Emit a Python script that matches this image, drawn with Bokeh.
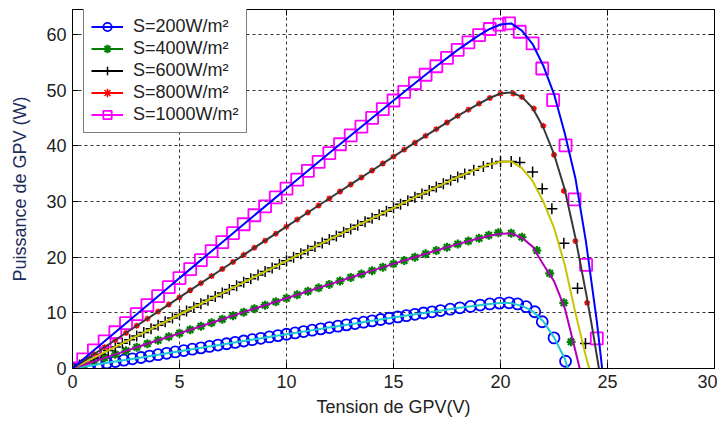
from bokeh.plotting import figure
from bokeh.models import Range1d, LinearAxis, Legend, LegendItem, FixedTicker
from bokeh.embed import file_html
from bokeh.resources import INLINE

# ---------------- data ----------------
X_TICKS = [0, 5, 10, 15, 20, 25, 30]
Y_TICKS = [0, 10, 20, 30, 40, 50, 60]
LABELS = ["S=200W/m²", "S=400W/m²", "S=600W/m²", "S=800W/m²", "S=1000W/m²"]

# smooth model curves (lines)
line_v_200 = [0, 1, 2, 3, 4, 5, 6, 7, 8, 9, 10, 11, 12, 13, 14, 15, 16, 17, 18, 19,
              19.5, 20, 20.5, 21, 21.5, 22, 22.5, 23, 23.15]
line_p_200 = [0, 0.62, 1.24, 1.86, 2.48, 3.1, 3.71, 4.33, 4.94, 5.55, 6.15, 6.76, 7.36, 7.96,
              8.56, 9.15, 9.74, 10.3, 10.85, 11.35, 11.6, 11.75, 11.75, 11.25, 10.3, 8.5, 5.6,
              1.8, 0]

line_v_400 = [0, 1, 2, 3, 4, 5, 6, 7, 8, 9, 10, 11, 12, 13, 14, 15, 16, 17, 18, 19,
              19.5, 20, 20.5, 21, 21.5, 22, 22.5, 23, 23.5, 23.7]
line_p_400 = [0, 1.27, 2.54, 3.81, 5.08, 6.34, 7.6, 8.86, 10.12, 11.37, 12.62, 13.87, 15.11,
              16.35, 17.58, 18.8, 20.0, 21.2, 22.35, 23.4, 23.85, 24.2, 24.25, 23.5, 21.9,
              18.7, 15.7, 10.9, 3.2, 0]

line_v_600 = [0, 1, 2, 3, 4, 5, 6, 7, 8, 9, 10, 11, 12, 13, 14, 15, 16, 17, 18, 19,
              19.5, 20, 20.5, 21, 21.5, 22, 22.5, 23, 23.5, 24, 24.15]
line_p_600 = [0, 1.94, 3.88, 5.82, 7.76, 9.7, 11.63, 13.56, 15.49, 17.42, 19.34, 21.26, 23.17,
              25.08, 26.98, 28.87, 30.75, 32.6, 34.4, 36.0, 36.7, 37.15, 37.2, 36.0, 33.7,
              30.0, 25.3, 18.7, 10.0, 2.0, 0]

line_v_800 = [0, 1, 2, 3, 4, 5, 6, 7, 8, 9, 10, 11, 12, 13, 14, 15, 16, 17, 18, 19,
              19.5, 20, 20.5, 21, 21.5, 22, 22.5, 23, 23.5, 24, 24.3, 24.6]
line_p_800 = [0, 2.56, 5.12, 7.68, 10.23, 12.78, 15.33, 17.88, 20.42, 22.96, 25.5, 28.03,
              30.55, 33.07, 35.58, 38.08, 40.57, 43.0, 45.4, 47.6, 48.6, 49.4, 49.6, 48.8,
              46.8, 43.3, 38.5, 32.2, 23.5, 13.5, 7.0, 0]

line_v_1000 = [0, 1, 2, 3, 4, 5, 6, 7, 8, 9, 10, 11, 12, 13, 14, 15, 16, 17, 18, 19,
               19.5, 20, 20.5, 21, 21.5, 22, 22.5, 23, 23.5, 24, 24.5, 24.75]
line_p_1000 = [0, 3.26, 6.51, 9.76, 13.0, 16.24, 19.47, 22.7, 25.92, 29.13, 32.33, 35.52,
               38.7, 41.87, 45.02, 48.15, 51.25, 54.3, 57.25, 59.9, 61.0, 61.8, 62.0, 60.7,
               58.3, 54.4, 49.3, 42.3, 34.2, 22.6, 8.5, 0]

# sampled points (markers)
mk_v_200 = [0, 0.4, 0.8, 1.2, 1.6, 2.0, 2.4, 2.8, 3.2, 3.6, 4.0, 4.4, 4.8, 5.2, 5.6, 6.0,
            6.4, 6.8, 7.2, 7.6, 8.0, 8.4, 8.8, 9.2, 9.6, 10.0, 10.4, 10.8, 11.2, 11.6, 12.0,
            12.4, 12.8, 13.2, 13.6, 14.0, 14.4, 14.8, 15.2, 15.6, 16.0, 16.4, 16.8, 17.2,
            17.65, 18.1, 18.6, 19.05, 19.5, 19.95, 20.4, 20.8, 21.2, 21.6, 21.95, 22.5, 23.04]
mk_p_200 = [0, 0.25, 0.5, 0.74, 0.99, 1.24, 1.49, 1.74, 1.98, 2.23, 2.48, 2.73, 2.98, 3.22,
            3.47, 3.71, 3.96, 4.21, 4.45, 4.69, 4.94, 5.18, 5.43, 5.67, 5.91, 6.15, 6.39,
            6.64, 6.88, 7.12, 7.36, 7.6, 7.84, 8.08, 8.32, 8.56, 8.8, 9.03, 9.27, 9.5, 9.74,
            9.97, 10.19, 10.41, 10.66, 10.9, 11.15, 11.4, 11.6, 11.75, 11.8, 11.6, 11.1,
            10.2, 8.4, 5.5, 1.3]

mk_v_400 = [0, 0.5, 1, 1.5, 2, 2.5, 3, 3.5, 4, 4.5, 5, 5.5, 6, 6.5, 7, 7.5, 8, 8.5, 9, 9.5,
            10, 10.5, 11, 11.5, 12, 12.5, 13, 13.5, 14, 14.5, 15, 15.5, 16, 16.5, 17, 17.5,
            18, 18.5, 19, 19.45, 19.9, 20.5, 21.0, 21.7, 22.3, 22.96, 23.3]
mk_p_400 = [0, 0.64, 1.27, 1.91, 2.54, 3.18, 3.81, 4.45, 5.08, 5.71, 6.34, 6.97, 7.6, 8.23,
            8.86, 9.49, 10.12, 10.75, 11.37, 12.0, 12.62, 13.25, 13.87, 14.49, 15.11, 15.73,
            16.35, 16.97, 17.58, 18.19, 18.8, 19.4, 20.0, 20.6, 21.2, 21.78, 22.35, 22.9,
            23.4, 23.95, 24.4, 24.3, 23.6, 21.2, 17.1, 11.8, 4.8]

mk_v_600 = [0, 0.33, 0.67, 1.0, 1.33, 1.67, 2.0, 2.33, 2.67, 3.0, 3.33, 3.67, 4.0, 4.33, 4.67,
            5.0, 5.33, 5.67, 6.0, 6.33, 6.67, 7.0, 7.33, 7.67, 8.0, 8.33, 8.67, 9.0, 9.33,
            9.67, 10.0, 10.33, 10.67, 11.0, 11.33, 11.67, 12.0, 12.33, 12.67, 13.0, 13.33,
            13.67, 14.0, 14.33, 14.67, 15.0, 15.33, 15.67, 16.0, 16.33, 16.67, 17.0, 17.33,
            17.67, 18.0, 18.33, 18.75, 19.2, 19.6, 20.0, 20.5, 20.9, 21.5, 21.95, 22.4,
            22.96, 23.6, 23.97]
mk_p_600 = [0, 0.64, 1.3, 1.94, 2.58, 3.24, 3.88, 4.52, 5.18, 5.82, 6.46, 7.12, 7.76, 8.4,
            9.06, 9.7, 10.34, 11.0, 11.63, 12.27, 12.93, 13.56, 14.2, 14.86, 15.49, 16.13,
            16.78, 17.42, 18.06, 18.71, 19.34, 19.98, 20.63, 21.26, 21.9, 22.55, 23.17,
            23.81, 24.46, 25.08, 25.72, 26.36, 26.98, 27.62, 28.26, 28.87, 29.5, 30.13,
            30.75, 31.37, 31.99, 32.6, 33.2, 33.8, 34.4, 34.95, 35.6, 36.3, 36.85, 37.2,
            37.2, 37.0, 35.3, 32.3, 28.7, 22.5, 14.4, 4.5]

mk_v_800 = [0, 0.5, 1, 1.5, 2, 2.5, 3, 3.5, 4, 4.5, 5, 5.5, 6, 6.5, 7, 7.5, 8, 8.5, 9, 9.5,
            10, 10.5, 11, 11.5, 12, 12.5, 13, 13.5, 14, 14.5, 15, 15.5, 16, 16.5, 17, 17.5,
            18, 18.5, 19, 19.5, 20, 20.6, 21.0, 21.56, 22.0, 22.5, 22.96, 23.5, 24.05]
mk_p_800 = [0, 1.28, 2.56, 3.84, 5.12, 6.4, 7.68, 8.96, 10.23, 11.5, 12.78, 14.06, 15.33,
            16.6, 17.88, 19.15, 20.42, 21.7, 22.96, 24.23, 25.5, 26.76, 28.03, 29.3, 30.55,
            31.8, 33.07, 34.33, 35.58, 36.83, 38.08, 39.33, 40.57, 41.8, 43.0, 44.2, 45.4,
            46.5, 47.6, 48.6, 49.4, 49.4, 48.8, 46.7, 43.6, 38.4, 31.9, 22.9, 11.8]

mk_v_1000 = [0, 0.5, 1, 1.5, 2, 2.5, 3, 3.5, 4, 4.5, 5, 5.5, 6, 6.5, 7, 7.5, 8, 8.5, 9, 9.5,
             10, 10.5, 11, 11.5, 12, 12.5, 13, 13.5, 14, 14.5, 15, 15.5, 16, 16.5, 17, 17.5,
             18, 18.5, 19, 19.5, 19.95, 20.4, 20.9, 21.5, 21.95, 22.46, 23.04, 23.46, 24.0,
             24.5]
mk_p_1000 = [0, 1.63, 3.26, 4.88, 6.51, 8.14, 9.76, 11.38, 13.0, 14.62, 16.24, 17.86, 19.47,
             21.09, 22.7, 24.31, 25.92, 27.53, 29.13, 30.73, 32.33, 33.93, 35.52, 37.11,
             38.7, 40.29, 41.87, 43.45, 45.02, 46.59, 48.15, 49.7, 51.25, 52.78, 54.3, 55.8,
             57.25, 58.6, 59.9, 61.0, 61.8, 62.0, 60.5, 58.4, 53.9, 48.2, 40.1, 30.4, 18.6,
             5.4]

# ---------------- figure ----------------
FONT = "Liberation Sans"
p = figure(width=717, height=422, output_backend="svg", toolbar_location=None,
           x_range=Range1d(0, 30), y_range=Range1d(0, 64.5),
           min_border_left=72, min_border_right=3, min_border_top=9, min_border_bottom=54,
           x_axis_label="Tension de GPV(V)", y_axis_label="Puissance de GPV (W)",
           background_fill_color="white", border_fill_color="white")
p.outline_line_color = "black"
p.outline_line_width = 1

for ax in (p.xaxis[0], p.yaxis[0]):
    ax.major_tick_in = 6
    ax.major_tick_out = 0
    ax.minor_tick_in = 0
    ax.minor_tick_out = 0
    ax.axis_line_color = "black"
    ax.major_tick_line_color = "black"
    ax.major_label_text_font = FONT
    ax.major_label_text_font_size = "18px"
    ax.major_label_text_color = "#222222"
    ax.axis_label_text_font = FONT
    ax.axis_label_text_font_size = "18px"
    ax.axis_label_text_font_style = "normal"

p.xaxis.ticker = FixedTicker(ticks=X_TICKS)
p.yaxis.ticker = FixedTicker(ticks=Y_TICKS)
p.xaxis.major_label_standoff = 6
p.xaxis.axis_label_standoff = 6
p.xaxis.axis_label_text_color = "#222222"
p.yaxis.major_label_standoff = 6
p.yaxis.axis_label_standoff = 13
p.yaxis.axis_label_text_color = "#1e2d5a"

# tick marks on the top and right edges (no labels)
for loc, tk in (("above", X_TICKS), ("right", Y_TICKS)):
    ax = LinearAxis(ticker=FixedTicker(ticks=tk), major_tick_in=6, major_tick_out=0,
                    minor_tick_in=0, minor_tick_out=0, major_label_text_font_size="0px",
                    major_label_text_color=None, major_label_standoff=0,
                    axis_line_color="black", major_tick_line_color="black")
    p.add_layout(ax, loc)

p.xgrid.ticker = FixedTicker(ticks=X_TICKS)
p.ygrid.ticker = FixedTicker(ticks=Y_TICKS)
for g in (p.xgrid[0], p.ygrid[0]):
    g.grid_line_color = "#333333"
    g.grid_line_dash = "3 3"
    g.grid_line_width = 1

# markers first, lines over them
mk_styles = [
    (mk_v_200, mk_p_200, dict(marker="circle", size=11, line_color="#0000ff", fill_color=None, line_width=1.8), "#0000ff"),
    (mk_v_400, mk_p_400, dict(marker="asterisk", size=9, line_color="#008000", line_width=2.2), "#008000"),
    (mk_v_600, mk_p_600, dict(marker="cross", size=11, line_color="#000000", line_width=1.5), "#000000"),
    (mk_v_800, mk_p_800, dict(marker="asterisk", size=6, line_color="#ff0000", line_width=1.5), "#ff0000"),
    (mk_v_1000, mk_p_1000, dict(marker="square", size=12, line_color="#ff00ff", fill_color=None, line_width=1.8), "#ff00ff"),
]
NAN = float("nan")
items = []
for (vx, py, st, col), lab in zip(mk_styles, LABELS):
    sr = p.scatter(vx, py, **st)
    lr = p.line([NAN], [NAN], line_color=col, line_width=2)   # legend-only line sample
    items.append(LegendItem(label=lab, renderers=[lr, sr]))

lines = [
    (line_v_200, line_p_200, "#20c8d0"),
    (line_v_400, line_p_400, "#b000b8"),
    (line_v_600, line_p_600, "#c8c400"),
    (line_v_800, line_p_800, "#383838"),
    (line_v_1000, line_p_1000, "#0000ff"),
]
for vx, py, col in lines:
    p.line(vx, py, line_color=col, line_width=2)

legend = Legend(items=items, location=(11, 235), padding=7, spacing=1,
                glyph_width=32, glyph_height=21, label_height=21, label_standoff=10,
                label_text_font=FONT, label_text_font_size="18px", label_text_color="#222222",
                border_line_color="black", border_line_width=1,
                background_fill_color="white", background_fill_alpha=1.0, margin=0)
p.add_layout(legend, "center")

open("out.html", "w").write(file_html(p, INLINE))
